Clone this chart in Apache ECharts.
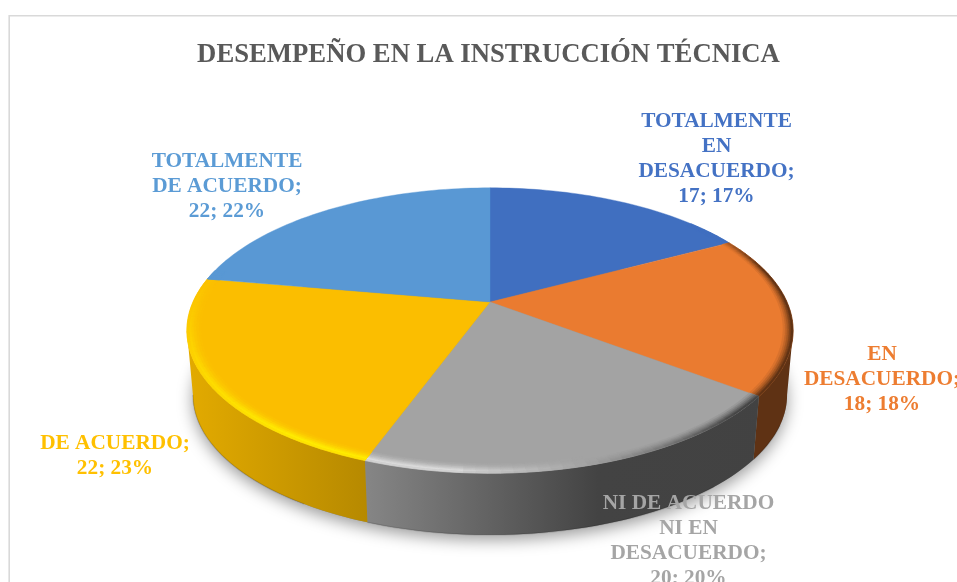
<!DOCTYPE html>
<html><head><meta charset="utf-8">
<style>html,body{margin:0;padding:0;background:#fff}#c{width:957px;height:582px}</style>
<script src="https://cdn.jsdelivr.net/npm/echarts@6/dist/echarts.min.js"></script>
</head><body><div id="c"></div>
<script>
const chartTitle = 'DESEMPEÑO EN LA INSTRUCCIÓN TÉCNICA';
const categories = ['TOTALMENTE EN DESACUERDO','EN DESACUERDO','NI DE ACUERDO NI EN DESACUERDO','DE ACUERDO','TOTALMENTE DE ACUERDO'];
const labelLines = [['TOTALMENTE','EN','DESACUERDO;'],['EN','DESACUERDO;'],['NI DE ACUERDO','NI EN','DESACUERDO;'],['DE ACUERDO;'],['TOTALMENTE','DE ACUERDO;']];
const values = [17,18,20,22,22];
const percents = [17,18,20,23,22];

// presentation only
const topColors = ['#4472c4','#ed7d31','#a5a5a5','#ffc000','#5b9bd5'];
const faceColors = ['#406fc0','#ea7b30','#a3a3a3','#fbbe00','#5998d4'];
const wallStops = [
  [[0,'#2f5597'],[1,'#2f5597']],
  [[0,'#5f3214'],[1,'#5f3214']],
  [[0,'#858585'],[0.297,'#858585'],[0.68,'#434343'],[1,'#424242']],
  [[0,'#e2aa00'],[0.297,'#b68900'],[1,'#b68900']],
  [[0,'#3f7cb5'],[1,'#3f7cb5']]
];
const rimLight = ['#406fc0','#ea7b30','#dedede','#ffee00','#5998d4'];
const rimDark = ['#406fc0','#5f3214','#454545','#fbbe00','#5998d4'];
const labelAnchors = [[716.5,121],[882,354],[688.5,503],[115,443.5],[227,161]];
const CX=490, CY=302, A=297, B=137, K=0.2, DROP=65, BOTTOM=0.98, LINE=25.2;
const WALL_FROM=101.5, WALL_TO=258.5;

const total = values.reduce((a,b)=>a+b,0);
const rad = d=>d*Math.PI/180;
function P(r,deg,low){
  const x=r*Math.sin(rad(deg)), y=-r*Math.cos(rad(deg)), w=1-K*y, s=low?BOTTOM:1;
  return [CX+s*A*x/w, CY+s*B*y/w+(low?DROP:0)];
}
function arc(r,a,b,low){
  const n=Math.max(2,Math.ceil(Math.abs(b-a)/1.5)), out=[];
  for(let i=0;i<=n;i++) out.push(P(r,a+(b-a)*i/n,low));
  return out;
}
function range(i){
  let s=0; for(let j=0;j<i;j++) s+=values[j];
  return [s/total*360,(s+values[i])/total*360];
}
function hex(c){return [1,3,5].map(i=>parseInt(c.substr(i,2),16));}
function mix(a,b,t){const p=hex(a),q=hex(b);return 'rgb('+p.map((v,i)=>Math.round(v+(q[i]-v)*t)).join(',')+')';}
function lightAt(deg){
  if(deg>=285||deg<50) return 0;
  if(deg>=215) return (285-deg)/70;
  if(deg>=185) return 1;
  if(deg>=165) return (deg-165)/20*0.9;
  if(deg<75) return -(deg-50)/25;
  return -Math.min(1,(165-deg)/30);
}
const lightBands=[[0.955,0.963,0.08],[0.963,0.971,0.22],[0.971,0.979,0.45],[0.979,0.986,0.72],[0.986,0.993,0.95],[0.993,1,0.8]];
const darkBands=[[0.968,0.975,0.12],[0.975,0.981,0.3],[0.981,0.987,0.5],[0.987,0.993,0.75],[0.993,1,1]];

function renderWall(params){
  const i=params.dataIndex,[a,b]=range(i),kids=[];
  if(i===0){
    kids.push({type:'polygon',shape:{points:arc(1,0,360,true)},silent:true,
      style:{fill:'#888',shadowBlur:16,shadowColor:'rgba(0,0,0,0.4)',shadowOffsetY:5}});
  }
  const from=Math.max(a,WALL_FROM),to=Math.min(b,WALL_TO);
  if(to>from){
    const grad={type:'linear',global:true,x:190,y:0,x2:790,y2:0,
      colorStops:wallStops[i].map(s=>({offset:s[0],color:s[1]}))};
    kids.push({type:'polygon',shape:{points:arc(1,from,to,false).concat(arc(1,to,from,true))},style:{fill:grad}});
    kids.push({type:'polyline',shape:{points:arc(1,from+12,to,true)},style:{fill:null,stroke:'rgba(0,0,0,0.12)',lineWidth:1.5}});
  }
  return {type:'group',children:kids};
}
function renderTop(params){
  const i=params.dataIndex,[a,b]=range(i),kids=[];
  kids.push({type:'polygon',shape:{points:[[CX,CY]].concat(arc(1,a,b,false))},
    style:{fill:faceColors[i],stroke:faceColors[i],lineWidth:0.4}});
  const n=Math.max(1,Math.ceil((b-a)/2));
  for(let s=0;s<n;s++){
    const d0=a+(b-a)*s/n,d1=a+(b-a)*(s+1)/n,l=lightAt((d0+d1)/2);
    if(l===0) continue;
    const target=l>0?rimLight[i]:rimDark[i];
    (l>0?lightBands:darkBands).forEach(band=>{
      const c=mix(faceColors[i],target,Math.abs(l)*band[2]);
      kids.push({type:'polygon',shape:{points:[P(band[0],d0),P(band[1],d0),P(band[1],d1),P(band[0],d1)]},
        style:{fill:c,stroke:c,lineWidth:0.6}});
    });
  }
  return {type:'group',children:kids};
}
function renderLabel(params){
  const i=params.dataIndex,[x,y]=labelAnchors[i];
  const lines=labelLines[i].concat([values[i]+'; '+percents[i]+'%']);
  return {type:'group',children:lines.map((t,j)=>({type:'text',x:x,y:y+j*LINE,silent:true,
    style:{text:t,fill:topColors[i],font:'bold 21.3px "Liberation Serif"',align:'center',verticalAlign:'middle'}}))};
}
const seriesData=categories.map((c,i)=>({name:c,value:values[i]}));
const mk=(fn,z)=>({type:'custom',coordinateSystem:'none',renderItem:fn,data:seriesData,z:z,animation:false,silent:true});
const chart=echarts.init(document.getElementById('c'),null,{renderer:'canvas'});
chart.setOption({
  animation:false,backgroundColor:'#ffffff',
  title:{text:chartTitle,left:483.5,top:37,textAlign:'center',
    textStyle:{color:'#595959',fontFamily:'"Liberation Serif"',fontWeight:'bold',fontSize:26.7}},
  graphic:[{type:'polyline',silent:true,shape:{points:[[9.2,582],[9.2,15.8],[957,15.8]]},style:{stroke:'#d9d9d9',lineWidth:1.6,fill:null}}],
  series:[mk(renderWall,1),mk(renderTop,2),mk(renderLabel,3)]
});
</script></body></html>
